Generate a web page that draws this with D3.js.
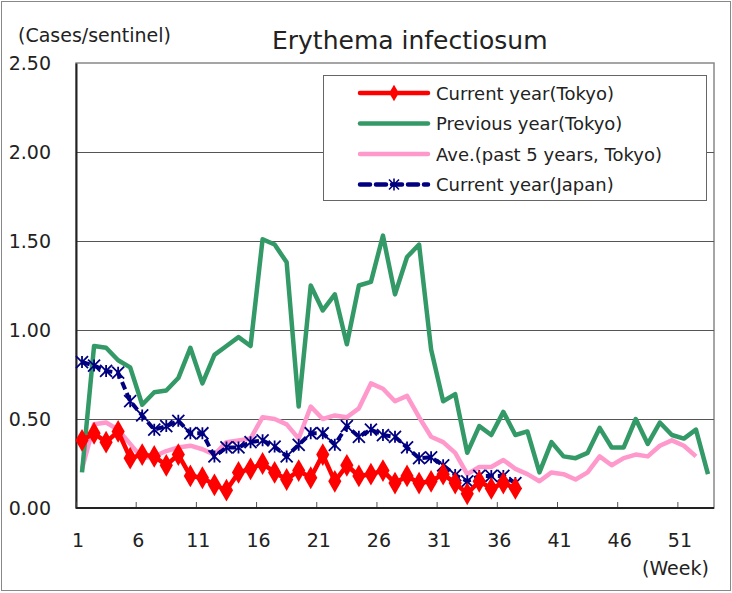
<!DOCTYPE html>
<html>
<head>
<meta charset="utf-8">
<script src="https://cdn.jsdelivr.net/npm/d3@7"></script>
<style>
body { margin: 0; background: #fff; }
svg text { font-family: "DejaVu Sans", sans-serif; fill: #222; }
</style>
</head>
<body>
<script>
// weekly values, cases per sentinel
const weeks = d3.range(1, 54);
const tickWeeks = [1, 6, 11, 16, 21, 26, 31, 36, 41, 46, 51];
const yTicks = [0, 0.5, 1.0, 1.5, 2.0, 2.5];

const currentTokyo = [0.38,0.42,0.37,0.43,0.28,0.30,0.29,0.24,0.30,0.18,0.17,0.13,0.10,0.20,0.22,0.25,0.20,0.16,0.21,0.17,
	0.30,0.15,0.24,0.18,0.19,0.21,0.14,0.18,0.14,0.15,0.19,0.14,0.08,0.15,0.11,0.14,0.11];
const previousTokyo = [0.20,0.91,0.90,0.83,0.79,0.58,0.65,0.66,0.73,0.90,0.70,0.86,0.91,0.96,0.91,1.51,1.48,1.38,0.57,1.25,
	1.11,1.20,0.92,1.25,1.27,1.53,1.20,1.41,1.48,0.89,0.60,0.64,0.31,0.46,0.41,0.54,0.41,0.43,0.20,0.37,
	0.29,0.28,0.31,0.45,0.34,0.34,0.50,0.36,0.48,0.41,0.39,0.44,0.19];
const average5y = [0.22,0.47,0.48,0.44,0.36,0.28,0.29,0.32,0.34,0.35,0.33,0.30,0.37,0.38,0.39,0.51,0.50,0.47,0.39,0.57,
	0.50,0.52,0.51,0.56,0.70,0.67,0.60,0.63,0.51,0.40,0.37,0.31,0.19,0.23,0.23,0.27,0.22,0.19,0.15,0.20,
	0.19,0.16,0.20,0.29,0.24,0.28,0.30,0.29,0.35,0.38,0.35,0.29];
const currentJapan = [0.82,0.80,0.77,0.76,0.60,0.52,0.44,0.46,0.49,0.42,0.42,0.29,0.34,0.34,0.37,0.38,0.345,0.29,0.355,0.42,
	0.42,0.355,0.46,0.40,0.44,0.41,0.40,0.34,0.28,0.285,0.24,0.185,0.15,0.18,0.18,0.18,0.14];

const W = 732, H = 593;
const plotL = 76, plotR = 714, plotT = 63, plotB = 508;

const svg = d3.select("body").append("svg")
	.attr("width", W)
	.attr("height", H);

svg.append("rect")
	.attr("x", 1.5).attr("y", 1.5)
	.attr("width", W - 3).attr("height", H - 4)
	.attr("fill", "#fff").attr("stroke", "#888");

const x = d3.scaleBand().domain(weeks).range([plotL, plotR]);
const y = d3.scaleLinear().domain([0, 2.5]).range([plotB, plotT]);

// plot frame + grid
svg.append("rect")
	.attr("x", plotL).attr("y", plotT)
	.attr("width", plotR - plotL).attr("height", plotB - plotT)
	.attr("fill", "none").attr("stroke", "#888").attr("stroke-width", 1.5);

svg.append("g").selectAll("line")
	.data(yTicks.filter(d => d > 0 && d < 2.5))
	.join("line")
	.attr("x1", plotL).attr("x2", plotR)
	.attr("y1", d => Math.round(y(d)) + 0.5).attr("y2", d => Math.round(y(d)) + 0.5)
	.attr("stroke", "#555");

const yAxis = svg.append("g")
	.attr("transform", `translate(${plotL},0)`)
	.call(d3.axisLeft(y).tickValues(yTicks).tickFormat(d3.format(".2f")).tickSize(0).tickPadding(25));
yAxis.select(".domain").attr("stroke", "#222").attr("stroke-width", 2);
yAxis.selectAll("text").attr("font-size", 19).attr("fill", "#222")
	.style("font-family", "DejaVu Sans, sans-serif");

const xAxis = svg.append("g")
	.attr("transform", `translate(0,${plotB})`)
	.call(d3.axisBottom(x).tickValues(tickWeeks).tickSize(0).tickPadding(0));
xAxis.select(".domain").remove();
xAxis.selectAll(".tick").attr("transform", d => `translate(${x(d)},0)`);
xAxis.selectAll(".tick line").attr("y1", -6).attr("y2", 0).attr("stroke", "#555");
xAxis.selectAll(".tick text").attr("y", 39).attr("dy", 0).attr("dx", 2)
	.attr("font-size", 19).attr("fill", "#222").style("font-family", "DejaVu Sans, sans-serif");
svg.append("line")
	.attr("x1", plotL).attr("x2", plotR)
	.attr("y1", plotB).attr("y2", plotB)
	.attr("stroke", "#222").attr("stroke-width", 2);

// labels
svg.append("text").attr("x", 272).attr("y", 49).attr("font-size", 25).text("Erythema infectiosum");
svg.append("text").attr("x", 18).attr("y", 42).attr("font-size", 19).text("(Cases/sentinel)");
svg.append("text").attr("x", 642).attr("y", 575).attr("font-size", 19).text("(Week)");

const cx = (d, i) => x(weeks[i]) + x.bandwidth() / 2;
const line = d3.line().x(cx).y(d => y(d));

svg.append("path").datum(average5y)
	.attr("d", line).attr("fill", "none")
	.attr("stroke", "#ff99cc").attr("stroke-width", 4.5).attr("stroke-linejoin", "round");
svg.append("path").datum(previousTokyo)
	.attr("d", line).attr("fill", "none")
	.attr("stroke", "#339966").attr("stroke-width", 4.5).attr("stroke-linejoin", "round");

// Japan: dashed navy with asterisk markers
svg.append("path").datum(currentJapan)
	.attr("d", line).attr("fill", "none")
	.attr("stroke", "#000080").attr("stroke-width", 4).attr("stroke-dasharray", "8,4");
const star = "M-6,-6L6,6M-6,6L6,-6M0,-6L0,6";
svg.append("g").selectAll("path")
	.data(currentJapan)
	.join("path")
	.attr("transform", (d, i) => `translate(${cx(d, i)},${y(d)})`)
	.attr("d", star)
	.attr("stroke", "#000080").attr("stroke-width", 1.8).attr("fill", "none");

// Tokyo current: red with diamonds
svg.append("path").datum(currentTokyo)
	.attr("d", line).attr("fill", "none")
	.attr("stroke", "#ff0000").attr("stroke-width", 4.5).attr("stroke-linejoin", "round");
const diamond = d3.symbol().type(d3.symbolDiamond).size(150);
svg.append("g").selectAll("path")
	.data(currentTokyo)
	.join("path")
	.attr("transform", (d, i) => `translate(${cx(d, i)},${y(d)})`)
	.attr("d", diamond)
	.attr("fill", "#ff0000");

// legend
const legend = svg.append("g");
legend.append("rect")
	.attr("x", 323.5).attr("y", 75.5).attr("width", 383).attr("height", 125)
	.attr("fill", "#fff").attr("stroke", "#666");

const legendItems = [
	{ name: "Current year(Tokyo)", color: "#ff0000", dash: null, mark: "diamond" },
	{ name: "Previous year(Tokyo)", color: "#339966", dash: null, mark: null },
	{ name: "Ave.(past 5 years, Tokyo)", color: "#ff99cc", dash: null, mark: null },
	{ name: "Current year(Japan)", color: "#000080", dash: "10,6", mark: "star" }
];
const row = legend.selectAll(".row")
	.data(legendItems)
	.join("g")
	.attr("transform", (d, i) => `translate(0,${93 + i * 30.5})`);
row.append("line")
	.attr("x1", 360).attr("x2", 428)
	.attr("stroke", d => d.color).attr("stroke-width", 4.5)
	.attr("stroke-linecap", "round")
	.attr("stroke-dasharray", d => d.dash);
const legendDiamond = d3.symbol().type(d3.symbolDiamond).size(80);
row.filter(d => d.mark == "diamond").append("path")
	.attr("transform", "translate(394,0)")
	.attr("d", legendDiamond).attr("fill", "#ff0000");
row.filter(d => d.mark == "star").append("path")
	.attr("transform", "translate(394,0)")
	.attr("d", "M-5,-5L5,5M-5,5L5,-5M0,-6L0,6").attr("stroke", "#000080").attr("stroke-width", 1.6);
row.append("text")
	.attr("x", 436).attr("y", 6.5)
	.attr("font-size", 18)
	.text(d => d.name);
</script>
</body>
</html>
